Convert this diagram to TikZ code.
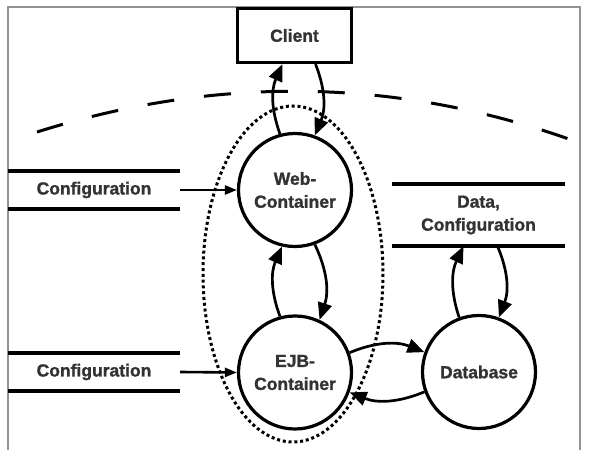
\documentclass[tikz,border=0pt]{standalone}
\usepackage{fontspec}
\setmainfont{Liberation Sans}[BoldFeatures={FakeBold=1.3}]
\usetikzlibrary{arrows.meta, positioning}
\definecolor{labelgray}{HTML}{333333}

\begin{document}
\begin{tikzpicture}[
    x=1pt, y=-1pt,
    labelfont/.style={font=\bfseries\fontsize{17.5}{23}\selectfont, text=labelgray},
    clientbox/.style={rectangle, draw=black, line width=3.2pt, minimum width=114pt, minimum height=54pt, labelfont},
    procnode/.style={circle, draw=black, line width=3.2pt, minimum size=113pt, inner sep=0pt, align=center, labelfont},
    storenode/.style={rectangle, minimum width=172pt, minimum height=38pt, align=center, labelfont},
    storeline/.style={line width=3.6pt},
    arrow/.style={-{Triangle[length=17pt, width=14pt]}, line width=2.7pt, bend left=22},
    feed/.style={-{Triangle[length=12pt, width=9pt]}, line width=2.6pt},
    boundary/.style={line width=3pt, dash pattern=on 27pt off 30pt},
    container/.style={line width=3pt, dash pattern=on 3pt off 2.8pt},
    frame/.style={draw=gray!85, line width=1.2pt}
]

\useasboundingbox (0,0) rectangle (590,462);
\draw[frame] (8,450) -- (8,7) -- (580,7) -- (580,450);

\node[clientbox] (client) at (294.5,35.5) {Client};
\node[procnode] (web) at (295,190) {Web-\\Container};
\node[procnode] (ejb) at (295,372.5) {EJB-\\Container};
\node[procnode] (db) at (479,372) {Database};

\node[storenode] (cfgweb) at (94,190) {Configuration};
\node[storenode] (cfgejb) at (94,372) {Configuration};
\node[storenode, minimum width=173pt, minimum height=62pt] (datastore) at (478.5,215) {Data,\\Configuration};

\draw[storeline] (cfgweb.north west) -- (cfgweb.north east);
\draw[storeline] (cfgweb.south west) -- (cfgweb.south east);
\draw[storeline] (cfgejb.north west) -- (cfgejb.north east);
\draw[storeline] (cfgejb.south west) -- (cfgejb.south east);
\draw[storeline] (datastore.north west) -- (datastore.north east);
\draw[storeline] (datastore.south west) -- (datastore.south east);

\draw[boundary] (37,132) .. controls (218,75) and (399,77) .. (580,143);
\draw[container] (293,274) ellipse [x radius=90, y radius=168];

\draw[arrow] (web.105) to ([xshift=-12pt]client.south);
\draw[arrow] ([xshift=21pt]client.south) to (web.70);
\draw[arrow] (ejb.105) to (web.257);
\draw[arrow] (web.290) to (ejb.65);
\draw[arrow] (ejb.20) to (db.160);
\draw[arrow] (db.200) to (ejb.340);
\draw[arrow] (db.110) to ([xshift=-15pt]datastore.south);
\draw[arrow] ([xshift=19pt]datastore.south) to (db.70);
\draw[feed] (cfgweb.east) -- (web.west);
\draw[feed] (cfgejb.east) -- (ejb.west);

\end{tikzpicture}
\end{document}
